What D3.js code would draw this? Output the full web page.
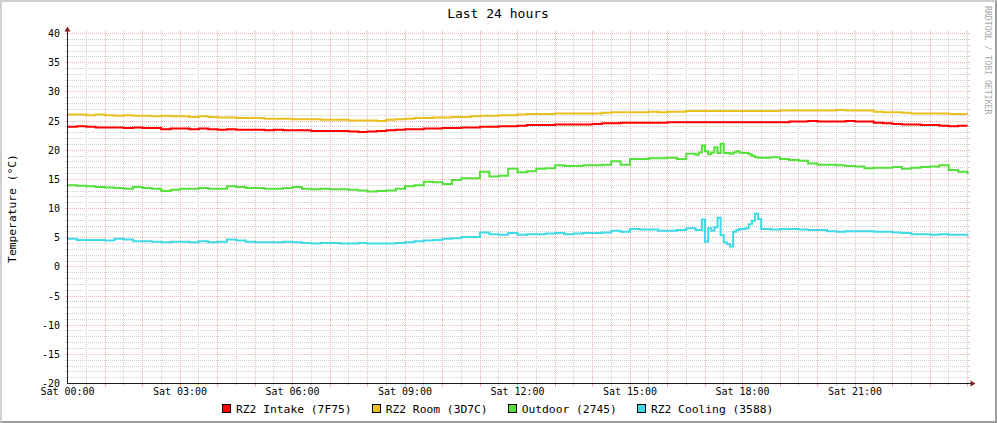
<!DOCTYPE html>
<html><head><meta charset="utf-8">
<script src="https://cdn.jsdelivr.net/npm/d3@7"></script>
<style>
html,body{margin:0;padding:0;background:#fff;}
svg{display:block;font-family:"DejaVu Sans Mono",monospace;}
</style></head><body>
<svg id="c" width="997" height="423"></svg>
<script>
// ---------------- data ----------------
const title = "Last 24 hours";
const yAxisTitle = "Temperature (°C)";
const watermark = "RRDTOOL / TOBI OETIKER";
const seriesNames = ["RZ2 Intake (7F75)", "RZ2 Room (3D7C)", "Outdoor (2745)", "RZ2 Cooling (3588)"];
const seriesColors = ["#ff0000", "#e8c020", "#55e03c", "#40dae6"];
const yTicks = [-20, -15, -10, -5, 0, 5, 10, 15, 20, 25, 30, 35, 40];
const xTickHours = [0, 3, 6, 9, 12, 15, 18, 21];
const xTickLabels = ["Sat 00:00", "Sat 03:00", "Sat 06:00", "Sat 09:00", "Sat 12:00", "Sat 15:00", "Sat 18:00", "Sat 21:00"];

// sample times, hours after Sat 00:00 (every 15 minutes)
const hours = d3.range(0, 24.001, 0.25);
const intake = [24.0,24.1,24.0,23.9, 23.9,23.9,23.8,23.9, 23.8,23.8,23.6,23.7, 23.7,23.6,23.7,23.6,
  23.5,23.6,23.5,23.5, 23.5,23.4,23.5,23.4, 23.4,23.4,23.3,23.3, 23.3,23.3,23.2,23.1,
  23.2,23.3,23.4,23.5, 23.6,23.6,23.7,23.7, 23.8,23.8,23.9,23.9, 24.0,24.0,24.1,24.1,
  24.2,24.3,24.3,24.3, 24.4,24.4,24.4,24.4, 24.5,24.6,24.6,24.7, 24.7,24.7,24.7,24.7,
  24.8,24.8,24.8,24.7, 24.7,24.6,24.4,24.3, 24.5,24.6,24.7,24.8, 24.8,24.9,24.9,25.0,
  24.9,24.9,24.9,25.0, 24.9,24.9,24.7,24.6, 24.5,24.4,24.4,24.3, 24.3,24.2,24.1,24.2, 24.2];
const room = [26.1,26.1,26.0,26.1, 26.0,25.9,26.0,25.9, 25.9,25.8,25.9,25.8, 25.8,25.7,25.8,25.7,
  25.6,25.6,25.5,25.5, 25.5,25.4,25.4,25.4, 25.3,25.3,25.3,25.2, 25.2,25.2,25.1,25.1,
  25.1,25.0,25.2,25.3, 25.4,25.5,25.5,25.6, 25.6,25.7,25.7,25.8, 25.9,25.9,26.0,26.0,
  26.1,26.2,26.2,26.2, 26.3,26.3,26.3,26.3, 26.3,26.4,26.5,26.5, 26.5,26.5,26.6,26.5,
  26.6,26.6,26.7,26.6, 26.6,26.5,26.4,26.5, 26.6,26.7,26.7,26.7, 26.8,26.8,26.8,26.8,
  26.8,26.8,26.9,26.8, 26.8,26.8,26.6,26.5, 26.5,26.4,26.3,26.3, 26.3,26.3,26.2,26.2, 26.2];
// null = covered by the 5-minute detail arrays below
const outdoor = [14.0,13.9,13.8,13.7, 13.6,13.5,13.4,13.7, 13.5,13.4,13.0,13.2, 13.4,13.4,13.5,13.4,
  13.4,13.8,13.7,13.5, 13.5,13.4,13.4,13.5, 13.7,13.4,13.3,13.4, 13.3,13.3,13.2,13.1,
  12.9,13.0,13.1,13.4, 13.8,14.0,14.6,14.5, 14.2,14.9,15.2,15.2, 16.3,15.5,15.6,16.8,
  16.2,16.4,16.8,16.9, 17.4,17.3,17.3,17.4, 17.4,17.5,18.1,17.5, 18.5,18.5,18.6,18.6,
  18.7,18.5,19.4,null, null,null,null,null, null,null,null,18.8, 18.5,18.3,18.2,17.7,
  17.5,17.5,17.4,17.3, 17.2,16.9,17.0,17.0, 17.1,16.8,17.0,17.1, 17.2,17.4,16.6,16.3, 15.9];
const cooling = [4.8,4.6,4.6,4.6, 4.5,4.8,4.7,4.4, 4.4,4.3,4.2,4.3, 4.3,4.2,4.4,4.2,
  4.3,4.7,4.5,4.3, 4.2,4.2,4.2,4.3, 4.2,4.1,4.0,4.1, 4.1,4.0,4.0,4.1,
  4.0,4.0,4.0,4.1, 4.2,4.4,4.5,4.6, 4.8,4.9,5.1,5.1, 5.9,5.6,5.5,5.8,
  5.5,5.6,5.6,5.7, 5.8,5.6,5.7,5.8, 5.8,5.9,6.2,6.0, 6.5,6.4,6.4,6.2,
  6.2,6.3,6.6,null, null,null,null,null, null,null,null,6.4, 6.5,6.5,6.4,6.3,
  6.3,6.1,6.0,6.1, 6.1,6.1,6.0,6.0, 5.9,5.8,5.6,5.6, 5.5,5.6,5.5,5.5, 5.2];
// 5-minute detail, 16:45 - 18:30
const spikeHours = d3.range(16.75, 18.5001, 1 / 12);
const outdoorSpike = [19.2,19.6,20.8,19.8,19.3,19.6,20.5,19.5,21.1,19.5,19.5,19.4,19.6,19.8,19.6,19.5,19.5,19.3,19.0,18.8,18.7,18.7];
const coolingSpike = [6.3,6.3,8.1,4.3,6.6,6.2,6.8,8.4,5.4,4.2,3.9,3.5,6.0,6.3,6.5,6.5,6.6,7.3,7.9,9.1,8.2,6.5];

// ---------------- drawing ----------------
const W = 997, H = 423;
const svg = d3.select("#c");
const x = d3.scaleLinear().domain([0, 24]).range([67.5, 967.5]);
const y = d3.scaleLinear().domain([-20, 40]).range([383.5, 33.5]);
const x0 = x(0), x1 = x(24), y0 = y(-20), y1 = y(40);

const gridCol = "#d2d2d2";
const mgridCol = "#f0b6b6";

// frame (3D shading)
svg.append("rect").attr("width", W).attr("height", H).attr("fill", "#ffffff");
svg.append("path").attr("d", `M0,0H${W}V2H2V${H}H0Z`).attr("fill", "#cfcfcf");
svg.append("path").attr("d", `M${W},0V${H}H0L2,${H-2}H${W-2}V2Z`).attr("fill", "#9e9e9e");

const grid = svg.append("g").attr("fill", "none");

// horizontal grid (dashes aligned to whole pixels)
d3.range(-20, 41, 1).forEach(v => {
  if (v === -20) return;
  const major = v % 5 === 0;
  const col = major ? mgridCol : gridCol;
  const yy = Math.round(y(v) - 0.5) + 0.5;
  grid.append("line").attr("x1", 68).attr("x2", 968).attr("y1", yy).attr("y2", yy)
    .attr("stroke", col).attr("stroke-dasharray", "1,1");
  grid.append("line").attr("x1", 65).attr("x2", 67).attr("y1", yy).attr("y2", yy).attr("stroke", col);
  grid.append("line").attr("x1", 968).attr("x2", 970).attr("y1", yy).attr("y2", yy).attr("stroke", col);
});
// vertical grid
d3.range(0.5, 24.01, 0.5).forEach(h => {
  const major = Math.abs(h - Math.round(h)) < 1e-9;
  const col = major ? mgridCol : gridCol;
  const xx = Math.round(x(h) - 0.5) + 0.5;
  grid.append("line").attr("x1", xx).attr("x2", xx).attr("y1", 34).attr("y2", 383)
    .attr("stroke", col).attr("stroke-dasharray", "1,1");
  grid.append("line").attr("x1", xx).attr("x2", xx).attr("y1", 384).attr("y2", major ? 387 : 386).attr("stroke", col);
  grid.append("line").attr("x1", xx).attr("x2", xx).attr("y1", 31).attr("y2", 33).attr("stroke", col);
});

// y tick labels
svg.append("g").selectAll("text").data(yTicks).join("text")
  .attr("x", 60).attr("y", d => y(d) + 3.5).attr("text-anchor", "end")
  .attr("font-size", "10px").attr("fill", "#000").text(d => d);

// x tick labels
svg.append("g").selectAll("text").data(xTickHours).join("text")
  .attr("x", d => x(d)).attr("y", 395).attr("text-anchor", "middle")
  .attr("font-size", "10px").attr("fill", "#000").text((d, i) => xTickLabels[i]);

// series
function merge(base, detail) {
  const pts = [];
  hours.forEach((h, i) => {
    if (base[i] != null && (h < spikeHours[0] - 1e-9 || h > spikeHours[spikeHours.length - 1] + 1e-9)) pts.push([h, base[i]]);
  });
  if (detail) spikeHours.forEach((h, i) => pts.push([h, detail[i]]));
  return pts.sort((a, b) => a[0] - b[0]);
}
const series = [
  merge(intake), merge(room), merge(outdoor, outdoorSpike), merge(cooling, coolingSpike)
];
const line = d3.line().x(d => x(d[0])).y(d => y(d[1])).curve(d3.curveStepAfter);
svg.append("g").selectAll("path").data(series).join("path")
  .attr("d", line).attr("fill", "none")
  .attr("stroke", (d, i) => seriesColors[i]).attr("stroke-width", 2)
  .attr("stroke-linejoin", "miter");

// axes
const axisCol = "#1f1f1f";
svg.append("line").attr("x1", x0).attr("x2", x0).attr("y1", y0 + 0.5).attr("y2", y1 - 3)
  .attr("stroke", axisCol).attr("shape-rendering", "crispEdges");
svg.append("line").attr("x1", x0 - 0.5).attr("x2", x1 + 4).attr("y1", y0).attr("y2", y0)
  .attr("stroke", axisCol).attr("shape-rendering", "crispEdges");
svg.append("path").attr("d", `M${x0},${y1 - 7}L${x0 - 3},${y1 - 2}L${x0 + 3},${y1 - 2}Z`).attr("fill", "#801f1f");
svg.append("path").attr("d", `M${x1 + 8},${y0}L${x1 + 3},${y0 - 3}L${x1 + 3},${y0 + 3}Z`).attr("fill", "#801f1f");

// title
svg.append("text").attr("x", 498).attr("y", 18).attr("text-anchor", "middle")
  .attr("font-size", "13px").attr("fill", "#000").text(title);
// y axis title
svg.append("text").attr("transform", `translate(16,${(y0 + y1) / 2}) rotate(-90)`)
  .attr("text-anchor", "middle").attr("font-size", "11.3px").attr("fill", "#000").text(yAxisTitle);
// watermark
svg.append("text").attr("transform", `translate(985,6) rotate(90)`)
  .attr("text-anchor", "start").attr("font-size", "8.2px").attr("fill", "#a8a8a8").text(watermark);

// legend
const lg = svg.append("g");
const items = seriesNames.map((n, i) => {
  const g = lg.append("g");
  g.append("rect").attr("x", 0.5).attr("y", 0.5).attr("width", 8).attr("height", 8)
    .attr("fill", seriesColors[i]).attr("stroke", "#000").attr("stroke-width", 1)
    .attr("shape-rendering", "crispEdges");
  const t = g.append("text").attr("x", 14).attr("y", 8.5).attr("font-size", "11.3px").attr("fill", "#000").text(n);
  return { g, w: 14 + t.node().getComputedTextLength() };
});
const gap = 20;
const total = d3.sum(items, d => d.w) + gap * (items.length - 1);
let cx = Math.round(498 - total / 2);
items.forEach(it => { it.g.attr("transform", `translate(${cx},404)`); cx += it.w + gap; });
</script>
</body></html>
